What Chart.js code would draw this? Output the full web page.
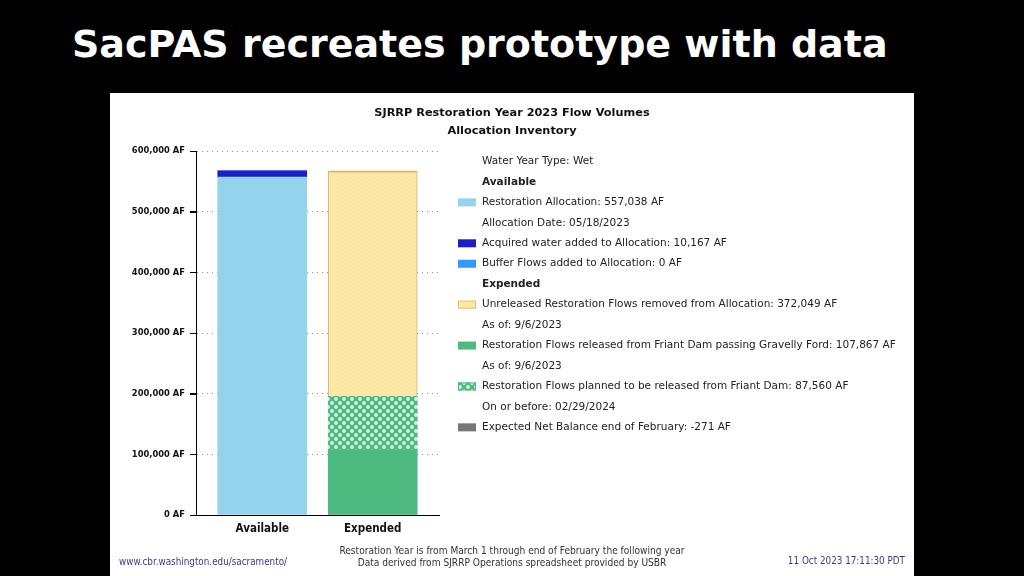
<!DOCTYPE html>
<html>
<head>
<meta charset="utf-8">
<script src="https://cdn.jsdelivr.net/npm/chart.js@4"></script>
<style>
  html, body { margin: 0; padding: 0; background: #000; width: 1024px; height: 576px; overflow: hidden; }
  h1 { position: absolute; left: 72px; top: 22px; margin: 0; color: #fff; font: bold 38px 'DejaVu Sans', sans-serif; }
  #panel { position: absolute; left: 110px; top: 93px; width: 804px; height: 483px; background: #fff; }
</style>
</head>
<body>
<h1>SacPAS recreates prototype with data</h1>
<div id="panel"><canvas id="flowChart" width="804" height="483"></canvas></div>
<script>
const categories = ['Available', 'Expended'];
const allocation = [557038, null];
const acquired = [10167, null];
const buffer = [0, null];
const released = [null, 107867];
const planned = [null, 87560];
const unreleased = [null, 372049];
const netBalance = [null, -271];
const yTicks = [0, 100000, 200000, 300000, 400000, 500000, 600000];

const fmt = v => v.toLocaleString('en-US');

// little canvas tiles for the hatched fills
function makePattern(draw, size) {
  const c = document.createElement('canvas');
  c.width = size; c.height = size;
  draw(c.getContext('2d'));
  return c.getContext('2d').createPattern(c, 'repeat');
}
const yellowFill = makePattern(g => {
  g.fillStyle = '#feebb0'; g.fillRect(0, 0, 4, 4);
  g.fillStyle = '#f8da8c'; g.fillRect(0, 0, 1, 1); g.fillRect(2, 2, 1, 1);
  g.fillStyle = '#fce4a0'; g.fillRect(1, 1, 1, 1); g.fillRect(3, 3, 1, 1); g.fillRect(2, 0, 1, 1); g.fillRect(0, 2, 1, 1);
}, 4);
const greenFill = makePattern(g => {
  g.fillStyle = '#4dbb80'; g.fillRect(0, 0, 8, 8);
  g.fillStyle = '#d9f5e4';
  [[2, 2], [6, 6]].forEach(p => { g.beginPath(); g.arc(p[0], p[1], 1.9, 0, Math.PI * 2); g.fill(); });
}, 8);

const pts = arr => arr.map((v, i) => v === null ? null : { x: i, y: v }).filter(p => p);

const legendRows = [
  { text: 'Water Year Type: Wet' },
  { text: 'Available', bold: true },
  { text: 'Restoration Allocation: ' + fmt(allocation[0]) + ' AF', fill: '#94d3ec' },
  { text: 'Allocation Date: 05/18/2023' },
  { text: 'Acquired water added to Allocation: ' + fmt(acquired[0]) + ' AF', fill: '#1d1dc9' },
  { text: 'Buffer Flows added to Allocation: ' + fmt(buffer[0]) + ' AF', fill: '#3399ff' },
  { text: 'Expended', bold: true },
  { text: 'Unreleased Restoration Flows removed from Allocation: ' + fmt(unreleased[1]) + ' AF', fill: yellowFill, stroke: '#e5c36c' },
  { text: 'As of: 9/6/2023' },
  { text: 'Restoration Flows released from Friant Dam passing Gravelly Ford: ' + fmt(released[1]) + ' AF', fill: '#4dbb80' },
  { text: 'As of: 9/6/2023' },
  { text: 'Restoration Flows planned to be released from Friant Dam: ' + fmt(planned[1]) + ' AF', fill: greenFill, stroke: '#4dbb80' },
  { text: 'On or before: 02/29/2024' },
  { text: 'Expected Net Balance end of February: ' + fmt(netBalance[1]) + ' AF', fill: '#777777' },
];

const textPlugin = {
  id: 'textPlugin',
  afterDraw(chart) {
    const ctx = chart.ctx;
    const ys = chart.scales.y;
    ctx.save();
    // solid tick marks left of the y axis
    ctx.strokeStyle = '#000';
    ctx.lineWidth = 1;
    yTicks.forEach(v => {
      const py = Math.round(ys.getPixelForValue(v)) + 0.5;
      ctx.beginPath(); ctx.moveTo(ys.right - 6, py); ctx.lineTo(ys.right, py); ctx.stroke();
    });
    ctx.textBaseline = 'middle';
    // chart title
    ctx.fillStyle = '#111';
    ctx.textAlign = 'center';
    ctx.font = "bold 11.3px 'DejaVu Sans', sans-serif";
    ctx.fillText('SJRRP Restoration Year 2023 Flow Volumes', 402, 20);
    ctx.fillText('Allocation Inventory', 402, 38);
    // legend
    ctx.textAlign = 'left';
    legendRows.forEach((r, i) => {
      const y = 68.5 + i * 20.45;
      if (r.fill) {
        ctx.fillStyle = r.fill;
        ctx.fillRect(348, y - 4, 18, 8);
        if (r.stroke) { ctx.strokeStyle = r.stroke; ctx.lineWidth = 1; ctx.strokeRect(348.5, y - 3.5, 17, 7); }
      }
      ctx.fillStyle = '#222';
      ctx.font = (r.bold ? 'bold ' : '') + "10.5px 'DejaVu Sans', sans-serif";
      ctx.fillText(r.text, 372, y);
    });
    // footer
    ctx.font = "10.1px 'DejaVu Sans Condensed', sans-serif";
    ctx.fillStyle = '#333';
    ctx.textAlign = 'center';
    ctx.fillText('Restoration Year is from March 1 through end of February the following year', 402, 458);
    ctx.fillText('Data derived from SJRRP Operations spreadsheet provided by USBR', 402, 470);
    ctx.font = "9.8px 'DejaVu Sans Condensed', sans-serif";
    ctx.fillStyle = '#3a3a8c';
    ctx.textAlign = 'left';
    ctx.fillText('www.cbr.washington.edu/sacramento/', 9, 469);
    ctx.textAlign = 'right';
    ctx.fillText('11 Oct 2023 17:11:30 PDT', 795, 468);
    ctx.restore();
  }
};

new Chart(document.getElementById('flowChart'), {
  type: 'bar',
  data: {
    datasets: [
      { label: 'Restoration Allocation', data: pts(allocation), backgroundColor: '#94d3ec' },
      { label: 'Acquired water added to Allocation', data: pts(acquired), backgroundColor: '#1d1dc9' },
      { label: 'Buffer Flows added to Allocation', data: pts(buffer), backgroundColor: '#3399ff' },
      { label: 'Restoration Flows released', data: pts(released), backgroundColor: '#4dbb80' },
      { label: 'Restoration Flows planned', data: pts(planned), backgroundColor: greenFill },
      { label: 'Unreleased Restoration Flows', data: pts(unreleased), backgroundColor: yellowFill,
        borderColor: '#d9b866', borderWidth: { top: 2, left: 1, right: 1, bottom: 0 }, borderSkipped: false },
      { label: 'Expected Net Balance', data: pts(netBalance), backgroundColor: '#777777' },
    ]
  },
  options: {
    responsive: false,
    animation: false,
    layout: { padding: { left: 0, top: 58, right: 475, bottom: 31 } },
    datasets: { bar: { barThickness: 89 } },
    plugins: { legend: { display: false }, tooltip: { enabled: false } },
    scales: {
      x: {
        type: 'linear', stacked: true, min: -0.6, max: 1.6, offset: false,
        afterFit: s => { s.height = 30; },
        afterBuildTicks: s => { s.ticks = categories.map((c, i) => ({ value: i })); },
        grid: { display: true, offset: false, drawOnChartArea: false, drawTicks: false, color: 'rgba(0,0,0,0)' },
        border: { display: true, color: '#000', width: 1 },
        ticks: {
          autoSkip: false, maxRotation: 0, minRotation: 0, padding: 7, color: '#111',
          font: { family: "'DejaVu Sans Condensed', sans-serif", size: 11.5, weight: 'bold' },
          callback: v => categories[v]
        }
      },
      y: {
        stacked: true, min: 0, max: 600000,
        afterFit: s => { s.width = 86; },
        afterBuildTicks: s => { s.ticks = yTicks.map(v => ({ value: v })); },
        grid: { color: '#8c8c8c', tickLength: 6, tickColor: '#000', tickBorderDash: [] },
        border: { display: true, color: '#000', width: 1, dash: [1, 4] },
        ticks: {
          padding: 5, color: '#111',
          font: { family: "'DejaVu Sans Condensed', sans-serif", size: 9.3, weight: 'bold' },
          callback: v => fmt(v) + ' AF'
        }
      }
    }
  },
  plugins: [textPlugin]
});
</script>
</body>
</html>
